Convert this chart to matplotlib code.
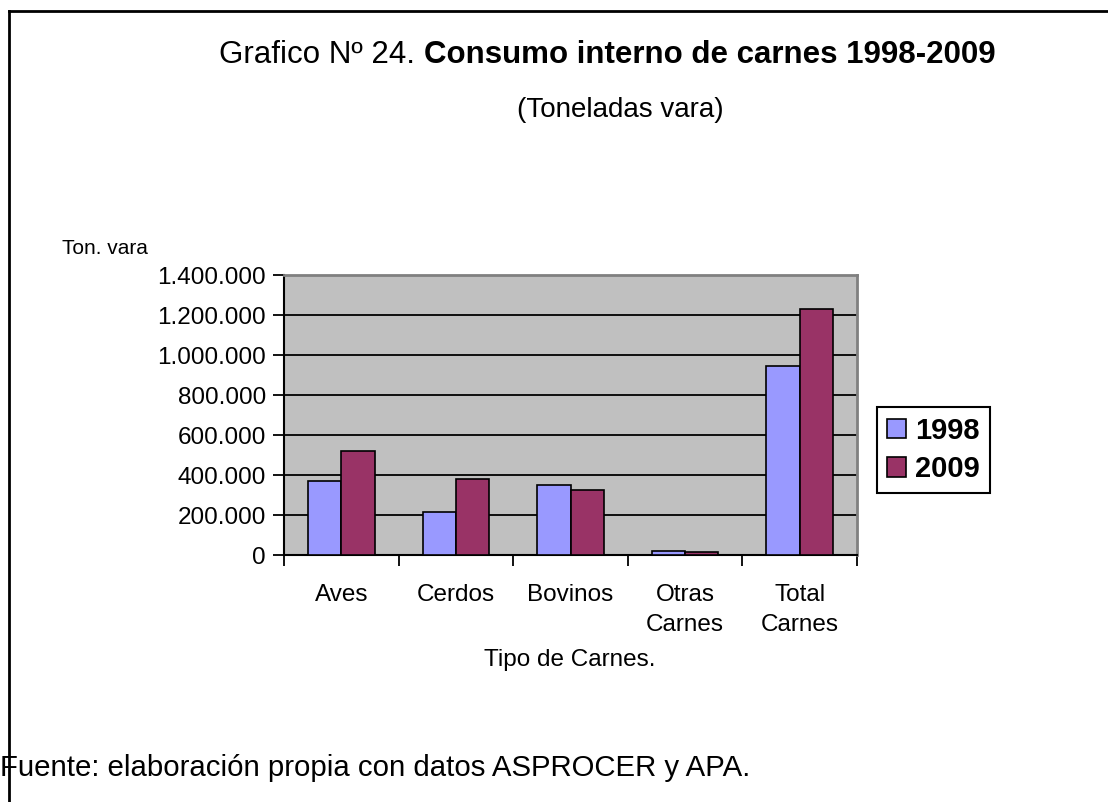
import matplotlib
matplotlib.use('Agg')
import matplotlib.pyplot as plt
from matplotlib.lines import Line2D
from matplotlib.ticker import FuncFormatter, FixedLocator
import numpy as np

plt.rcParams['font.family'] = ['Liberation Sans', 'DejaVu Sans']

# Datos (toneladas vara)
categorias = ['Aves', 'Cerdos', 'Bovinos', 'Otras\nCarnes', 'Total\nCarnes']
anios = ['1998', '2009']
valores_1998 = [370000, 216000, 350000, 21000, 946000]
valores_2009 = [520000, 378000, 325000, 16000, 1228000]

COLOR_1998 = '#9999FF'
COLOR_2009 = '#993366'
FONDO = '#C0C0C0'

W, H = 1108, 802
fig = plt.figure(figsize=(W / 100, H / 100), dpi=100, facecolor='white')

# Marco exterior
fig.add_artist(Line2D([8.5 / W, 1.0], [1 - 11 / H, 1 - 11 / H], color='black', lw=2))
fig.add_artist(Line2D([8.5 / W, 8.5 / W], [0.0, 1 - 11 / H], color='black', lw=2))

# Área del gráfico
x0, x1, y0, y1 = 284, 857, 275, 555
ax = fig.add_axes([x0 / W, 1 - y1 / H, (x1 - x0) / W, (y1 - y0) / H])
ax.set_facecolor(FONDO)

x = np.arange(len(categorias))
ancho = 0.29
ax.bar(x - ancho / 2, valores_1998, ancho, color=COLOR_1998, edgecolor='black',
       linewidth=1.2, label=anios[0], zorder=3)
ax.bar(x + ancho / 2, valores_2009, ancho, color=COLOR_2009, edgecolor='black',
       linewidth=1.2, label=anios[1], zorder=3)

ax.set_xlim(-0.5, len(categorias) - 0.5)
ax.set_ylim(0, 1400000)
ax.set_yticks(np.arange(0, 1400001, 200000))
ax.yaxis.set_major_formatter(FuncFormatter(lambda v, p: f"{v:,.0f}".replace(',', '.')))
ax.grid(axis='y', color='black', linewidth=1.3, zorder=1)

ax.set_xticks(x)
ax.set_xticklabels(categorias, fontsize=17.5, linespacing=1.45)
ax.xaxis.set_minor_locator(FixedLocator(np.arange(-0.5, len(categorias), 1.0)))
ax.tick_params(axis='x', which='major', length=0, pad=21)
ax.tick_params(axis='x', which='minor', length=8, width=1.3, direction='out')
ax.tick_params(axis='y', labelsize=17.5, length=8, width=1.3, pad=5)

ax.spines['left'].set_linewidth(1.5)
ax.spines['bottom'].set_linewidth(1.5)
ax.spines['top'].set_color('#808080')
ax.spines['right'].set_color('#808080')
ax.spines['top'].set_linewidth(2)
ax.spines['right'].set_linewidth(2)

# Título en dos partes (normal + negrita), centrado en conjunto
renderer = fig.canvas.get_renderer()
t1 = fig.text(0, 1 - 55 / H, 'Grafico Nº 24. ', fontsize=22.5, ha='left', va='center')
t2 = fig.text(0, 1 - 55 / H, 'Consumo interno de carnes 1998-2009', fontsize=22.5,
              fontweight='bold', ha='left', va='center')
w1 = t1.get_window_extent(renderer).width
w2 = t2.get_window_extent(renderer).width
inicio = 607 - (w1 + w2) / 2
t1.set_x(inicio / W)
t2.set_x((inicio + w1) / W)

fig.text(620 / W, 1 - 110 / H, '(Toneladas vara)', fontsize=20, ha='center', va='center')
fig.text(62 / W, 1 - 248 / H, 'Ton. vara', fontsize=15, ha='left', va='center')
fig.text(570 / W, 1 - 660 / H, 'Tipo de Carnes.', fontsize=17.5, ha='center', va='center')
fig.text(0.0, 1 - 768 / H, 'Fuente: elaboración propia con datos ASPROCER y APA.',
         fontsize=21.2, ha='left', va='center')

leg = ax.legend(loc='center left', bbox_to_anchor=(877 / W, 1 - 450 / H),
                bbox_transform=fig.transFigure, fancybox=False, framealpha=1,
                edgecolor='black', prop={'weight': 'bold', 'size': 21},
                handlelength=0.65, handleheight=0.65, handletextpad=0.3,
                borderpad=0.35, labelspacing=0.35, borderaxespad=0)
leg.get_frame().set_linewidth(1.5)

fig.savefig('out.png', dpi=100, facecolor='white')
